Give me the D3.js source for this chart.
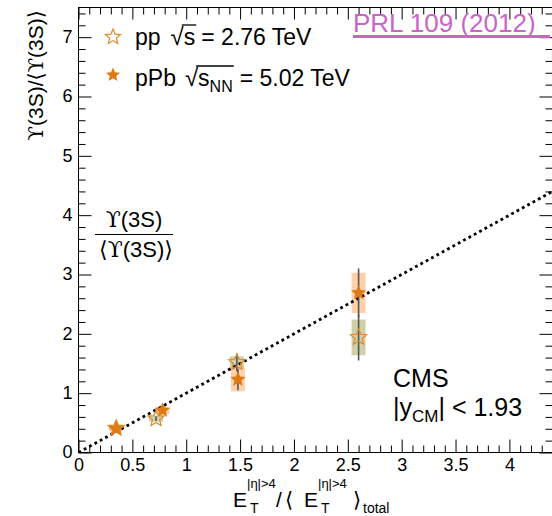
<!DOCTYPE html>
<html><head><meta charset="utf-8">
<script src="https://cdn.jsdelivr.net/npm/d3@7"></script>
<style>body{margin:0;background:#fff}svg{display:block}</style>
</head><body>
<svg id="c" width="552" height="516"></svg>
<script>
// Axis ticks
const xMajorTicks = [0, 0.5, 1, 1.5, 2, 2.5, 3, 3.5, 4];
const xTickLabels = ["0", "0.5", "1", "1.5", "2", "2.5", "3", "3.5", "4"];
const yMajorTicks = [0, 1, 2, 3, 4, 5, 6, 7];
const yTickLabels = ["0", "1", "2", "3", "4", "5", "6", "7"];

// pp at 2.76 TeV (open stars)
const ppX = [0.35, 0.72, 1.47, 2.60];
const ppY = [0.41, 0.57, 1.52, 1.94];
const ppStat = [0.03, 0.04, 0.15, 0.39];
const ppSyst = [0.03, 0.05, 0.10, 0.30];

// pPb at 5.02 TeV (filled stars)
const pPbX = [0.35, 0.78, 1.48, 2.60];
const pPbY = [0.40, 0.71, 1.23, 2.69];
const pPbStat = [0.03, 0.05, 0.18, 0.41];
const pPbSyst = [0.04, 0.06, 0.20, 0.34];

// half width of the systematic boxes, in x units
const boxHalfWidth = 0.065;

// reference line y = x
const refX = [0, 4.4];
const refY = [0, 4.4];

const svg = d3.select("#c");
const FONT = "'Liberation Sans', Arial, Helvetica, sans-serif";
const x = d3.scaleLinear().domain([0, 4.4]).range([78.5, 552.5]);
const y = d3.scaleLinear().domain([0, 7.5]).range([452.5, 7.5]);
const [x0, x1] = x.range();
const [y0, y1] = y.range();

svg.append("defs").append("clipPath").attr("id", "plotClip")
  .append("rect").attr("x", x0).attr("y", y1).attr("width", x1 - x0).attr("height", y0 - y1);

const plot = svg.append("g").attr("clip-path", "url(#plotClip)");

// star marker
const starType = {
  draw(ctx, size) {
    const R = Math.sqrt(size), r = R * 0.45;
    for (let i = 0; i < 10; i++) {
      const a = -Math.PI / 2 + i * Math.PI / 5;
      const rad = i % 2 ? r : R;
      const px = rad * Math.cos(a), py = rad * Math.sin(a);
      if (i === 0) ctx.moveTo(px, py); else ctx.lineTo(px, py);
    }
    ctx.closePath();
  }
};
const starPath = d3.symbol().type(starType);

const ppPts = ppX.map((v, i) => ({x: v, y: ppY[i], stat: ppStat[i], syst: ppSyst[i]}));
const pPbPts = pPbX.map((v, i) => ({x: v, y: pPbY[i], stat: pPbStat[i], syst: pPbSyst[i]}));

// systematic boxes
function boxes(data, fill) {
  plot.append("g").selectAll("rect").data(data).join("rect")
    .attr("x", d => x(d.x - boxHalfWidth))
    .attr("width", d => x(d.x + boxHalfWidth) - x(d.x - boxHalfWidth))
    .attr("y", d => y(d.y + d.syst))
    .attr("height", d => y(d.y - d.syst) - y(d.y + d.syst))
    .attr("fill", fill);
}
boxes(ppPts, "rgba(140,140,50,0.42)");
boxes(pPbPts, "rgba(252,150,70,0.45)");

// dotted reference line
plot.append("path")
  .datum(refX.map((v, i) => [v, refY[i]]))
  .attr("d", d3.line().x(d => x(d[0])).y(d => y(d[1])))
  .attr("fill", "none").attr("stroke", "#000")
  .attr("stroke-width", 2.8).attr("stroke-dasharray", "2.8 3.3");

// statistical error bars
function errs(data) {
  plot.append("g").selectAll("line").data(data).join("line")
    .attr("x1", d => x(d.x)).attr("x2", d => x(d.x))
    .attr("y1", d => y(d.y - d.stat)).attr("y2", d => y(d.y + d.stat))
    .attr("stroke", "#555").attr("stroke-width", 1.6);
}
errs(ppPts);
errs(pPbPts);

// markers
const OPEN = "#e0882a", FILLED = "#df7a12";
plot.append("g").selectAll("path").data(ppPts).join("path")
  .attr("transform", d => `translate(${x(d.x)},${y(d.y)})`)
  .attr("d", starPath.size(72)).attr("fill", "none")
  .attr("stroke", OPEN).attr("stroke-width", 1.2);
plot.append("g").selectAll("path").data(pPbPts).join("path")
  .attr("transform", d => `translate(${x(d.x)},${y(d.y)})`)
  .attr("d", starPath.size(64)).attr("fill", FILLED);

// axes (ticks drawn inside the frame)
const xMinor = d3.range(1, 45).map(i => i / 10).filter(v => Math.abs(v * 2 - Math.round(v * 2)) > 1e-6);
const yMinor = d3.range(1, 38).map(i => i / 5).filter(v => Math.abs(v - Math.round(v)) > 1e-6);

function axisG(axis, tx, ty) {
  const g = svg.append("g").attr("transform", `translate(${tx},${ty})`).call(axis);
  g.select(".domain").remove();
  g.selectAll("line").attr("stroke", "#000").attr("stroke-width", 1);
  return g;
}
const xb = axisG(d3.axisBottom(x).tickValues(xMajorTicks).tickSize(-13)
  .tickFormat((d, i) => xTickLabels[i]).tickPadding(6), 0, y0);
xb.selectAll("text").attr("font-family", FONT).attr("font-size", 18).attr("fill", "#000");
axisG(d3.axisBottom(x).tickValues(xMinor).tickSize(-7).tickFormat(""), 0, y0);
axisG(d3.axisTop(x).tickValues(xMajorTicks).tickSize(-12).tickFormat(""), 0, y1);
axisG(d3.axisTop(x).tickValues(xMinor).tickSize(-7).tickFormat(""), 0, y1);

const yl = axisG(d3.axisLeft(y).tickValues(yMajorTicks).tickSize(-13)
  .tickFormat((d, i) => yTickLabels[i]).tickPadding(6), x0, 0);
yl.selectAll("text").attr("font-family", FONT).attr("font-size", 18).attr("fill", "#000").attr("dy", "0.3em");
axisG(d3.axisLeft(y).tickValues(yMinor).tickSize(-7).tickFormat(""), x0, 0);
axisG(d3.axisRight(y).tickValues(yMajorTicks).tickSize(-13).tickFormat(""), x1, 0);
axisG(d3.axisRight(y).tickValues(yMinor).tickSize(-7).tickFormat(""), x1, 0);

// frame
svg.append("rect").attr("x", x0).attr("y", y1).attr("width", x1 - x0).attr("height", y0 - y1)
  .attr("fill", "none").attr("stroke", "#000").attr("stroke-width", 1);

// text helper: sequential pieces on a baseline
function pieces(x, y, parts) {
  let cx = x;
  const out = [];
  parts.forEach(p => {
    cx += (p.gap || 0);
    const t = svg.append("text").attr("x", cx).attr("y", y + (p.dy || 0))
      .attr("font-family", p.family || FONT).attr("font-size", p.size)
      .attr("fill", p.fill || "#000").text(p.t);
    const w = t.node().getComputedTextLength();
    out.push({x: cx, w});
    cx += w;
  });
  return out;
}

// legend
svg.append("path").attr("transform", "translate(113,37)").attr("d", starPath.size(64))
  .attr("fill", "none").attr("stroke", OPEN).attr("stroke-width", 1.2);
svg.append("path").attr("transform", "translate(113,75)").attr("d", starPath.size(56))
  .attr("fill", FILLED);

const L1 = pieces(135, 45, [
  {t: "pp", size: 23},
  {t: "\u221A", size: 24, gap: 10},
  {t: "s", size: 23, gap: 0},
  {t: "= 2.76 TeV", size: 23, gap: 6}
]);
svg.append("line").attr("x1", L1[1].x + L1[1].w - 2).attr("x2", L1[2].x + L1[2].w + 1)
  .attr("y1", 25).attr("y2", 25).attr("stroke", "#000").attr("stroke-width", 1.3);

const L2 = pieces(135, 86, [
  {t: "pPb", size: 23},
  {t: "\u221A", size: 24, gap: 9},
  {t: "s", size: 23, gap: 0},
  {t: "NN", size: 16, dy: 6},
  {t: "= 5.02 TeV", size: 23, gap: 7}
]);
svg.append("line").attr("x1", L2[1].x + L2[1].w - 2).attr("x2", L2[3].x + L2[3].w + 1)
  .attr("y1", 66).attr("y2", 66).attr("stroke", "#000").attr("stroke-width", 1.3);

// publication tag
svg.append("text").attr("x", 353).attr("y", 32)
  .attr("font-family", FONT).attr("font-size", 26).attr("fill", "#c766c7").text("PRL 109 (2012)");
svg.append("rect").attr("x", 353).attr("y", 35).attr("width", 197).attr("height", 3).attr("fill", "#c766c7");

// ratio label as a fraction
const SERIF = "'DejaVu Serif', 'Liberation Serif', serif";
const MATH = "'DejaVu Sans', sans-serif";
const num = svg.append("text").attr("x", 134).attr("y", 227).attr("text-anchor", "middle")
  .attr("font-family", FONT).attr("font-size", 22);
num.append("tspan").attr("font-family", SERIF).text("\u03D2");
num.append("tspan").text("(3S)");
svg.append("line").attr("x1", 95).attr("x2", 173).attr("y1", 234.5).attr("y2", 234.5)
  .attr("stroke", "#000").attr("stroke-width", 1.2);
const den = svg.append("text").attr("x", 136).attr("y", 257).attr("text-anchor", "middle")
  .attr("font-family", FONT).attr("font-size", 22);
den.append("tspan").attr("font-family", MATH).text("\u27E8");
den.append("tspan").attr("font-family", SERIF).text("\u03D2");
den.append("tspan").text("(3S)");
den.append("tspan").attr("font-family", MATH).text("\u27E9");

// CMS label
svg.append("text").attr("x", 393).attr("y", 387).attr("font-family", FONT).attr("font-size", 25).text("CMS");
pieces(393, 416, [
  {t: "|y", size: 25},
  {t: "CM", size: 17, dy: 6},
  {t: "| < 1.93", size: 25}
]);

// y-axis title
const yt = svg.append("text").attr("transform", "translate(43,10) rotate(-90)")
  .attr("text-anchor", "end").attr("font-family", FONT).attr("font-size", 21);
yt.append("tspan").attr("font-family", SERIF).text("\u03D2");
yt.append("tspan").text("(3S)/");
yt.append("tspan").attr("font-family", MATH).text("\u27E8");
yt.append("tspan").attr("font-family", SERIF).text("\u03D2");
yt.append("tspan").text("(3S)");
yt.append("tspan").attr("font-family", MATH).text("\u27E9");

// x-axis title
function et(xp) {
  svg.append("text").attr("x", xp).attr("y", 507).attr("font-family", FONT).attr("font-size", 21).text("E");
  svg.append("text").attr("x", xp + 14).attr("y", 488).attr("font-family", FONT).attr("font-size", 13).text("|\u03B7|>4");
  svg.append("text").attr("x", xp + 17).attr("y", 513).attr("font-family", FONT).attr("font-size", 14).text("T");
}
et(233);
svg.append("text").attr("x", 276).attr("y", 507).attr("font-family", FONT).attr("font-size", 21).text("/");
svg.append("text").attr("x", 285).attr("y", 507).attr("font-family", MATH).attr("font-size", 21).text("\u27E8");
et(304);
svg.append("text").attr("x", 353).attr("y", 507).attr("font-family", MATH).attr("font-size", 21).text("\u27E9");
svg.append("text").attr("x", 363).attr("y", 513).attr("font-family", FONT).attr("font-size", 14).text("total");
</script>
</body></html>
